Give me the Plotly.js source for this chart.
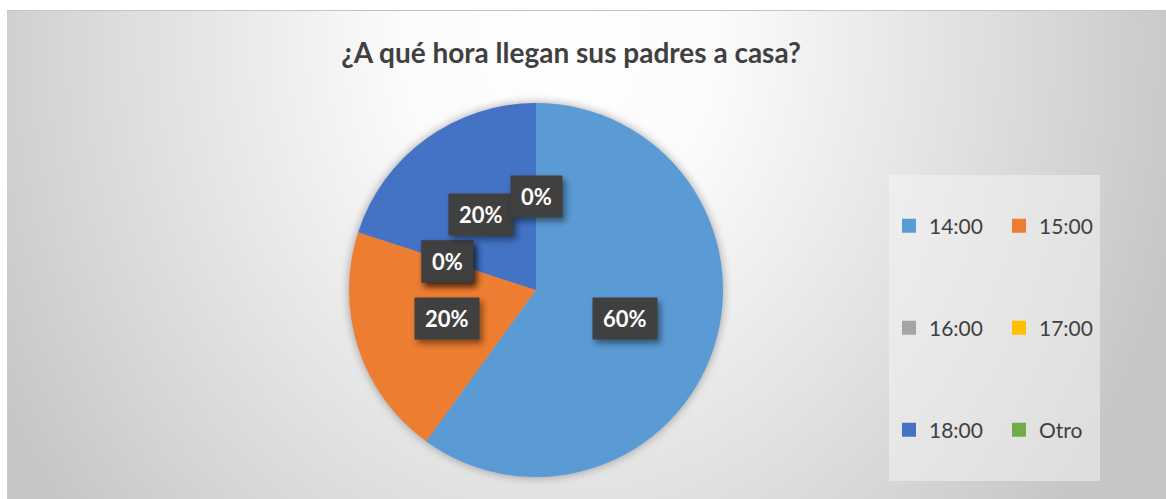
<!DOCTYPE html>
<html>
<head>
<meta charset="utf-8">
<script src="https://cdn.plot.ly/plotly-3.0.1.min.js"></script>
<style>
  html, body { margin: 0; padding: 0; background: #ffffff; }
  #bg {
    position: absolute; left: 7px; top: 10px; width: 1159px; height: 489px;
    border-top: 1px solid #c4c4c4; box-sizing: border-box;
    background: radial-gradient(ellipse 640px 750px at 553px 30px,
      #ffffff 0%, #fbfbfb 25%, #e3e3e3 60%, #d5d5d5 80%, #c6c6c6 100%);
  }
  #chart { position: absolute; left: 0; top: 0; width: 1166px; height: 499px; }
  .pielayer .trace { filter: drop-shadow(0px 0px 5px rgba(0,0,0,0.35)); }
  .annotation rect.bg { filter: drop-shadow(3px 4px 3px rgba(0,0,0,0.45)); }
</style>
</head>
<body>
<div id="bg"></div>
<div id="chart"></div>
<script>
// ---- data ----
const chartTitle = "¿A qué hora llegan sus padres a casa?";
const categories = ["14:00", "15:00", "16:00", "17:00", "18:00", "Otro"];
const percentages = [60, 20, 0, 0, 20, 0];
const sliceColors = ["#5B9BD5", "#ED7D31", "#A5A5A5", "#FFC000", "#4472C4", "#70AD47"];
const legendColumn = [0, 1, 0, 1, 0, 1];
const legendRow = [0, 0, 1, 1, 2, 2];

// ---- layout geometry ----
const W = 1166, H = 499;
const pieDomain = { x: [349 / W, 723 / W], y: [22 / H, 396 / H] };
const cx = (pieDomain.x[0] + pieDomain.x[1]) / 2 * W;          // px from left
const cyUp = (pieDomain.y[0] + pieDomain.y[1]) / 2 * H;        // px from bottom
const R = Math.min((pieDomain.x[1] - pieDomain.x[0]) * W, (pieDomain.y[1] - pieDomain.y[0]) * H) / 2;

const fontFam = "Lato, 'Open Sans', sans-serif";

const traces = [{
  type: "pie",
  labels: categories,
  values: percentages,
  sort: false,
  direction: "clockwise",
  rotation: 0,
  marker: { colors: sliceColors, line: { width: 0 } },
  textinfo: "none",
  hoverinfo: "label+percent",
  showlegend: false,
  domain: pieDomain
}];

// legend entries: one per category, each in its own legend placed in a grid
const legendLeft = [889 / W, 999 / W];
const legendRowY = [226, 328, 430];
const layoutLegends = {};
categories.forEach((c, i) => {
  const key = i === 0 ? "legend" : "legend" + (i + 1);
  traces.push({
    type: "scatter", mode: "markers", x: [null], y: [null],
    name: c, legend: key, showlegend: true, hoverinfo: "skip",
    marker: { symbol: "square", size: 14, color: sliceColors[i] }
  });
  layoutLegends[key] = {
    x: legendLeft[legendColumn[i]], xanchor: "left",
    y: 1 - legendRowY[legendRow[i]] / H, yanchor: "middle",
    bgcolor: "rgba(0,0,0,0)", borderwidth: 0,
    font: { family: fontFam, size: 21, color: "#404040" },
    itemclick: false, itemdoubleclick: false
  };
});

// data labels computed from the values (mid-angle, half radius)
const total = percentages.reduce((a, b) => a + b, 0);
const annotations = [];
let cum = 0;
percentages.forEach((v, i) => {
  const theta = 2 * Math.PI * (cum + v / 2) / total;
  cum += v;
  const px = cx + 0.5 * R * Math.sin(theta);
  const pyUp = cyUp + 0.5 * R * Math.cos(theta);
  annotations.push({
    xref: "paper", yref: "paper", x: px / W, y: pyUp / H,
    xanchor: "center", yanchor: "middle", showarrow: false,
    text: Math.round(v / total * 100) + "%",
    borderpad: 10, height: 21, bgcolor: "#404040",
    font: { family: fontFam, size: 22, color: "#ffffff", weight: 700 }
  });
});

const layout = Object.assign({
  width: W, height: H,
  margin: { l: 0, r: 0, t: 0, b: 0 },
  paper_bgcolor: "rgba(0,0,0,0)",
  plot_bgcolor: "rgba(0,0,0,0)",
  title: {
    text: "<b>" + chartTitle + "</b>",
    x: 571 / W, xanchor: "center", xref: "paper",
    y: 1 - 53 / H, yanchor: "middle", yref: "container",
    font: { family: fontFam, size: 28, color: "#404040" }
  },
  xaxis: { visible: false, fixedrange: true },
  yaxis: { visible: false, fixedrange: true },
  shapes: [{
    type: "rect", xref: "paper", yref: "paper", layer: "below",
    x0: 889 / W, x1: 1100 / W, y0: 1 - 481 / H, y1: 1 - 175 / H,
    fillcolor: "rgba(245,245,245,0.5)", line: { width: 0 }
  }],
  annotations: annotations,
  hovermode: false
}, layoutLegends);

Plotly.newPlot("chart", traces, layout, { displayModeBar: false, staticPlot: true });
</script>
</body>
</html>
